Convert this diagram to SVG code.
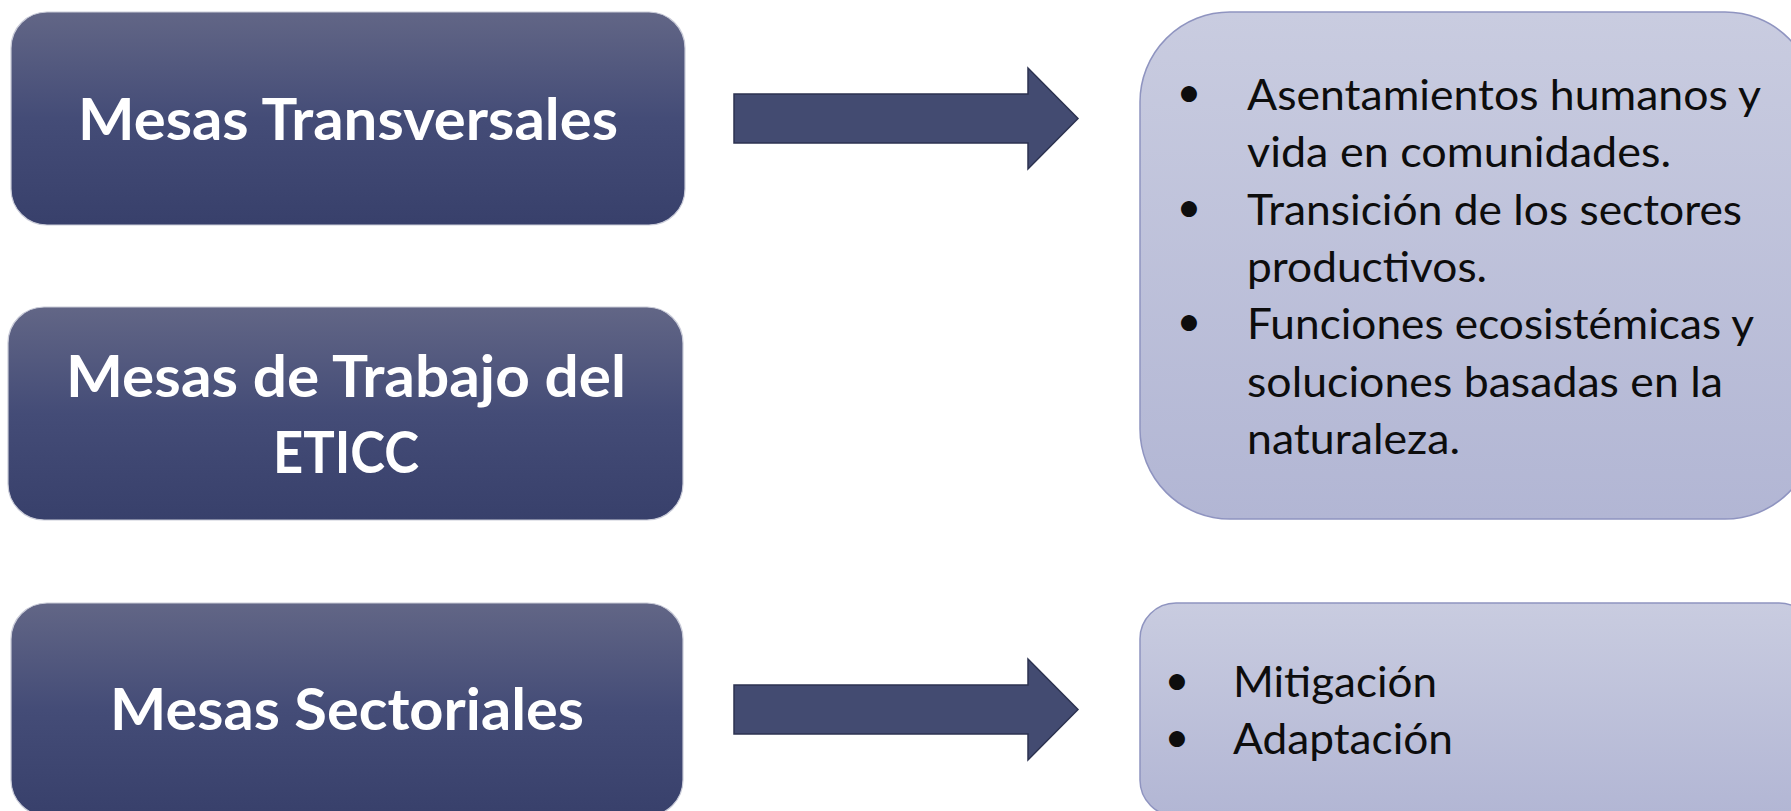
<svg xmlns="http://www.w3.org/2000/svg" width="1791" height="811" viewBox="0 0 1791 811">
  <style>
    .dark { fill: url(#gDark); stroke: #c9cbd8; stroke-width: 1.2; }
    .light { fill: url(#gLight); stroke: #8f94c0; stroke-width: 1.5; }
    .title { font-family: Lato, "Open Sans", sans-serif; font-weight: bold; font-size: 57px; fill: #ffffff; text-anchor: middle; }
    .item { font-family: Lato, "Open Sans", sans-serif; font-size: 43px; fill: #0d0d0d; }
    .bullet { font-family: Lato, "Open Sans", sans-serif; font-size: 43px; fill: #0d0d0d; text-anchor: middle; }
    .arrow { fill: #434b71; stroke: #2c3250; stroke-width: 1.5; }
  </style>
  <defs>
    <linearGradient id="gDark" x1="0" y1="0" x2="0" y2="1">
      <stop offset="0" stop-color="#626686"/>
      <stop offset="0.5" stop-color="#444c77"/>
      <stop offset="1" stop-color="#38406b"/>
    </linearGradient>
    <linearGradient id="gLight" x1="0" y1="0" x2="0" y2="1">
      <stop offset="0" stop-color="#c9cce0"/>
      <stop offset="1" stop-color="#b2b6d4"/>
    </linearGradient>
  </defs>
  <rect width="1791" height="811" fill="#ffffff"/>

  <g id="node-transversales">
    <rect class="dark" x="11" y="12" width="674" height="213" rx="36" ry="36"/>
    <text class="title" x="348" y="140" textLength="540" lengthAdjust="spacingAndGlyphs">Mesas Transversales</text>
  </g>

  <g id="node-eticc">
    <rect class="dark" x="8" y="307" width="675" height="213" rx="36" ry="36"/>
    <text class="title" x="346" y="397" textLength="560" lengthAdjust="spacingAndGlyphs">Mesas de Trabajo del</text>
    <text class="title" x="346" y="473" textLength="146" lengthAdjust="spacingAndGlyphs">ETICC</text>
  </g>

  <g id="node-sectoriales">
    <rect class="dark" x="11" y="603" width="672" height="213" rx="36" ry="36"/>
    <text class="title" x="347" y="730" textLength="474" lengthAdjust="spacingAndGlyphs">Mesas Sectoriales</text>
  </g>

  <g id="node-temas">
    <rect class="light" x="1140" y="12" width="675" height="507" rx="90" ry="90"/>
    <text class="bullet" x="1189" y="107">•</text>
    <text class="item" x="1247" y="110" textLength="514" lengthAdjust="spacingAndGlyphs">Asentamientos humanos y</text>
    <text class="item" x="1247" y="167" textLength="424" lengthAdjust="spacingAndGlyphs">vida en comunidades.</text>
    <text class="bullet" x="1189" y="222">•</text>
    <text class="item" x="1247" y="225" textLength="495" lengthAdjust="spacingAndGlyphs">Transición de los sectores</text>
    <text class="item" x="1247" y="282" textLength="240" lengthAdjust="spacingAndGlyphs">productivos.</text>
    <text class="bullet" x="1189" y="336">•</text>
    <text class="item" x="1247" y="339" textLength="507" lengthAdjust="spacingAndGlyphs">Funciones ecosistémicas y</text>
    <text class="item" x="1247" y="397" textLength="476" lengthAdjust="spacingAndGlyphs">soluciones basadas en la</text>
    <text class="item" x="1247" y="454" textLength="213" lengthAdjust="spacingAndGlyphs">naturaleza.</text>
  </g>

  <g id="node-enfoques">
    <rect class="light" x="1140" y="603" width="675" height="213" rx="36" ry="36"/>
    <text class="bullet" x="1177" y="695">•</text>
    <text class="item" x="1233" y="697" textLength="204" lengthAdjust="spacingAndGlyphs">Mitigación</text>
    <text class="bullet" x="1177" y="752">•</text>
    <text class="item" x="1233" y="754" textLength="220" lengthAdjust="spacingAndGlyphs">Adaptación</text>
  </g>

  <g id="connectors">
    <polygon class="arrow" points="734,94 1028,94 1028,68 1078,118.5 1028,169 1028,143 734,143"/>
    <polygon class="arrow" points="734,685 1028,685 1028,659 1078,709.5 1028,760 1028,734 734,734"/>
  </g>
</svg>
